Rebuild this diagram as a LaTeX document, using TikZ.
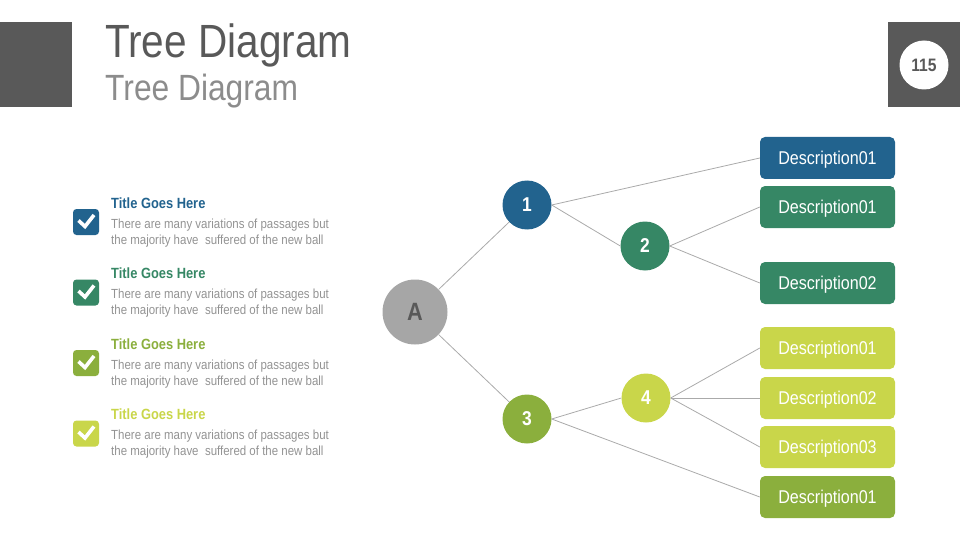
\documentclass[tikz,border=0pt]{standalone}
\usepackage{fontspec}
\setmainfont{Liberation Sans}[FakeStretch=0.87]
\usetikzlibrary{positioning}
\definecolor{slategray}{HTML}{595959}
\definecolor{subgray}{HTML}{8C8C8C}
\definecolor{bodygray}{HTML}{939393}
\definecolor{linegray}{HTML}{AAAAAA}
\definecolor{rootgray}{HTML}{A6A6A6}
\definecolor{tblue}{HTML}{22638E}
\definecolor{tgreen}{HTML}{368765}
\definecolor{tolive}{HTML}{8BAF3D}
\definecolor{tlime}{HTML}{C9D64A}

\begin{document}
\begin{tikzpicture}[x=1pt,y=-1pt,
		bubble/.style={circle,inner sep=0pt,minimum size=49pt,text=white,font=\bfseries\fontsize{20}{20}\selectfont},
		descbox/.style={rounded corners=5pt,minimum width=135pt,minimum height=42pt,inner sep=0pt,text depth=0pt,text=white,font=\fontsize{18.5}{18.5}\selectfont},
		tickbox/.style={rounded corners=3.5pt,minimum size=26pt,inner sep=0pt},
		branch/.style={draw=linegray,line width=0.8pt},
		checkmark/.style={draw=white,line width=3.6pt}]
		\useasboundingbox (0,0) rectangle (960,540);
		
		% header
		\fill[slategray] (0,22) rectangle (72,107);
		\fill[slategray] (888,22) rectangle (960,107);
		\node[circle,fill=white,minimum size=49pt,inner sep=0pt,text=slategray,font=\bfseries\fontsize{18}{18}\selectfont] (page) at (924,65) {115};
		\node[anchor=base west,inner sep=0pt,text=slategray,font=\fontsize{46.6}{46.6}\selectfont] (title) at (105,57.5) {Tree Diagram};
		\node[anchor=base west,inner sep=0pt,text=subgray,font=\fontsize{36.5}{36.5}\selectfont] (subtitle) at (105,101) {Tree Diagram};
		
		% list on the left
		\foreach \yy/\col [count=\i] in {222/tblue,292.5/tgreen,363/tolive,433.5/tlime}{
			\node[tickbox,fill=\col] (tick\i) at (86,\yy) {};
			\draw[checkmark] (78.5,\yy-1.5) -- ++(6.5,6) -- ++(9,-11.5);
			\node[anchor=base west,inner sep=0pt,text=\col,font=\bfseries\fontsize{14.8}{14.8}\selectfont] (head\i) at (111,\yy-14) {Title Goes Here};
			% base of a two-line node is its last line
			\node[anchor=base west,inner sep=0pt,align=left,text=bodygray,font=\fontsize{13.2}{16}\selectfont] (body\i) at (111,\yy+22) {There are many variations of passages but\\the majority have\ \ suffered of the new ball};
		}
		
		% tree
		\node[bubble,fill=rootgray,minimum size=65pt,text=slategray,font=\bfseries\fontsize{25}{25}\selectfont] (A) at (415,312) {A};
		\node[bubble,fill=tblue] (n1) at (527,205) {1};
		\node[bubble,fill=tgreen] (n2) at (645,246) {2};
		\node[bubble,fill=tolive] (n3) at (527,419) {3};
		\node[bubble,fill=tlime] (n4) at (646,398) {4};
		
		\node[descbox,fill=tblue] (d1) at (827.5,158) {Description01};
		\node[descbox,fill=tgreen] (d2) at (827.5,207) {Description01};
		\node[descbox,fill=tgreen] (d3) at (827.5,283) {Description02};
		\node[descbox,fill=tlime] (d4) at (827.5,348) {Description01};
		\node[descbox,fill=tlime] (d5) at (827.5,398) {Description02};
		\node[descbox,fill=tlime] (d6) at (827.5,447) {Description03};
		\node[descbox,fill=tolive] (d7) at (827.5,497) {Description01};
		
		\draw[branch] (A) -- (n1);
		\draw[branch] (A) -- (n3);
		\draw[branch] (n1.east) -- (d1.west);
		\draw[branch] (n1.east) -- (n2.west);
		\draw[branch] (n2.east) -- (d2.west);
		\draw[branch] (n2.east) -- (d3.west);
		\draw[branch] (n3.east) -- (n4.west);
		\draw[branch] (n3.east) -- (d7.west);
		\foreach \d in {d4,d5,d6}
			\draw[branch] (n4.east) -- (\d.west);
	\end{tikzpicture}
\end{document}
